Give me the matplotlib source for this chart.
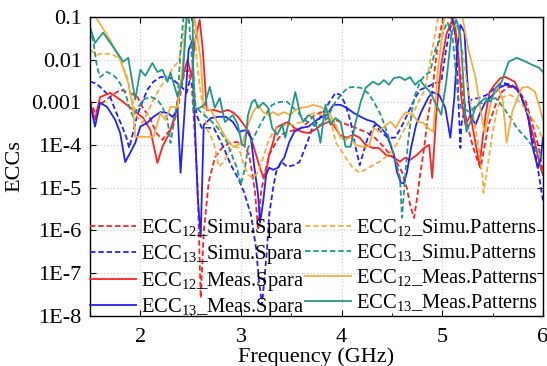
import numpy as np
import matplotlib
matplotlib.use("Agg")
import matplotlib.pyplot as plt

plt.rcParams['font.family'] = ['Liberation Serif', 'DejaVu Serif']
plt.rcParams['mathtext.fontset'] = 'custom'
plt.rcParams['mathtext.rm'] = 'Liberation Serif'

# Dane: czestotliwosc (GHz) i wykladnik log10(ECC)
f_r_sim = [1.50, 1.55, 1.60, 1.70, 1.80, 1.90, 1.97, 2.02, 2.09, 2.16, 2.22, 2.27, 2.32, 2.37, 2.41, 2.44,
           2.47, 2.51, 2.54, 2.57, 2.60, 2.63, 2.68, 2.74, 2.81, 2.89, 2.96, 3.03, 3.08, 3.11, 3.14, 3.17,
           3.20, 3.24, 3.28, 3.35, 3.40, 3.47, 3.53, 3.60, 3.67, 3.73, 3.80, 3.87, 3.93, 3.99, 4.06, 4.12,
           4.19, 4.26, 4.33, 4.40, 4.46, 4.53, 4.60, 4.65, 4.68, 4.72, 4.75, 4.78, 4.82, 4.85, 4.90, 4.95,
           5.00, 5.05, 5.10, 5.13, 5.19, 5.23, 5.28, 5.33, 5.38, 5.41, 5.46, 5.53, 5.59, 5.66, 5.74, 5.83,
           5.89, 5.96, 6.00]
e_r_sim = [-2.94, -3.25, -3.06, -2.87, -2.71, -2.78, -2.87, -3.11, -3.34, -3.72, -3.88, -3.72, -3.58, -3.18, -2.64, -2.29,
           -2.24, -2.55, -3.72, -5.00, -7.58, -6.05, -4.86, -4.30, -4.07, -3.95, -3.93, -4.00, -4.23, -4.63, -5.10, -6.00,
           -5.10, -4.63, -4.23, -3.93, -3.76, -3.69, -3.65, -3.60, -3.46, -3.30, -3.23, -3.46, -3.41, -3.46, -3.53, -3.58,
           -3.65, -3.72, -3.83, -4.00, -4.16, -4.33, -4.63, -5.03, -5.40, -5.71, -5.24, -4.70, -4.07, -3.46, -2.76, -1.73,
           -1.12, -0.90, -1.07, -1.42, -2.52, -3.30, -3.83, -4.23, -4.54, -4.16, -3.53, -3.06, -2.76, -2.64, -2.66, -2.99,
           -3.46, -4.07, -4.63]

f_b_sim = [1.50, 1.55, 1.60, 1.70, 1.75, 1.82, 1.86, 1.89, 1.93, 1.97, 2.02, 2.07, 2.13, 2.20, 2.28, 2.33,
           2.41, 2.46, 2.49, 2.52, 2.56, 2.61, 2.67, 2.73, 2.78, 2.83, 2.90, 2.97, 3.03, 3.10, 3.15, 3.18,
           3.21, 3.23, 3.26, 3.28, 3.32, 3.35, 3.40, 3.46, 3.53, 3.58, 3.61, 3.66, 3.71, 3.76, 3.82, 3.88,
           3.94, 3.99, 4.04, 4.09, 4.14, 4.18, 4.21, 4.26, 4.33, 4.39, 4.46, 4.53, 4.59, 4.66, 4.73, 4.78,
           4.85, 4.93, 4.99, 5.04, 5.08, 5.11, 5.14, 5.16, 5.18, 5.19, 5.23, 5.29, 5.36, 5.44, 5.53, 5.61,
           5.69, 5.76, 5.83, 5.89, 5.94, 5.98, 6.00]
e_b_sim = [-2.52, -2.55, -2.64, -2.87, -3.18, -3.57, -3.81, -4.07, -3.69, -3.30, -2.99, -2.71, -2.52, -2.41, -2.41, -2.48,
           -2.64, -2.78, -2.50, -2.60, -3.30, -3.60, -3.60, -3.60, -3.83, -4.07, -4.47, -4.77, -5.10, -5.64, -6.41, -7.21,
           -7.74, -7.21, -6.41, -5.64, -5.00, -4.63, -4.39, -4.51, -4.47, -4.40, -4.23, -3.93, -3.60, -3.46, -3.23, -2.99,
           -2.78, -2.83, -3.06, -3.46, -4.07, -4.47, -4.23, -3.83, -3.53, -3.69, -3.83, -3.83, -3.60, -3.25, -2.90, -2.71,
           -2.64, -2.55, -2.52, -1.73, -1.26, -1.02, -1.66, -2.90, -4.07, -3.53, -3.06, -2.94, -2.90, -2.83, -2.66, -2.55,
           -2.59, -2.76, -3.13, -3.76, -4.40, -5.00, -5.30]

f_r_meas = [1.50, 1.55, 1.60, 1.70, 1.80, 1.93, 2.03, 2.10, 2.17, 2.22, 2.29, 2.36, 2.41, 2.44, 2.47, 2.51,
            2.54, 2.59, 2.62, 2.66, 2.73, 2.80, 2.87, 2.93, 2.98, 3.03, 3.08, 3.13, 3.18, 3.22, 3.25, 3.28,
            3.32, 3.35, 3.40, 3.47, 3.53, 3.60, 3.67, 3.73, 3.80, 3.87, 3.92, 3.98, 4.05, 4.12, 4.18, 4.24,
            4.31, 4.37, 4.44, 4.51, 4.58, 4.63, 4.68, 4.75, 4.82, 4.87, 4.90, 4.94, 4.99, 5.04, 5.09, 5.13,
            5.16, 5.19, 5.23, 5.28, 5.37, 5.43, 5.47, 5.52, 5.58, 5.63, 5.72, 5.78, 5.85, 5.92, 5.97, 6.00]
e_r_meas = [-3.01, -3.41, -2.88, -2.78, -2.94, -3.18, -3.37, -3.65, -4.42, -4.04, -3.72, -3.18, -2.48, -2.24, -2.00, -2.41,
            -1.61, -1.07, -1.75, -3.18, -3.18, -3.23, -3.18, -3.25, -3.37, -3.53, -3.69, -4.07, -4.47, -4.75, -4.63, -4.23,
            -3.93, -3.60, -3.53, -3.46, -3.60, -3.69, -3.72, -3.65, -3.53, -3.46, -3.53, -3.76, -3.83, -3.76, -3.83, -4.00,
            -4.07, -4.07, -4.23, -4.28, -4.39, -4.30, -4.35, -4.23, -4.07, -4.00, -4.77, -3.30, -2.12, -1.42, -1.12, -1.26,
            -1.89, -2.90, -3.53, -3.30, -4.47, -3.30, -2.76, -2.59, -2.43, -2.41, -2.52, -2.83, -3.30, -3.93, -4.47, -4.70]

f_b_meas = [1.50, 1.55, 1.60, 1.67, 1.75, 1.80, 1.85, 1.90, 1.95, 2.00, 2.07, 2.13, 2.20, 2.27, 2.32, 2.37,
            2.40, 2.43, 2.48, 2.52, 2.53, 2.57, 2.60, 2.63, 2.70, 2.78, 2.85, 2.92, 2.98, 3.05, 3.10, 3.13,
            3.17, 3.19, 3.22, 3.25, 3.28, 3.32, 3.37, 3.40, 3.43, 3.48, 3.53, 3.60, 3.67, 3.73, 3.78, 3.85,
            3.92, 3.99, 4.05, 4.12, 4.19, 4.25, 4.32, 4.39, 4.45, 4.52, 4.55, 4.59, 4.62, 4.65, 4.69, 4.74,
            4.79, 4.86, 4.90, 4.97, 5.03, 5.08, 5.12, 5.15, 5.18, 5.22, 5.25, 5.28, 5.33, 5.38, 5.43, 5.50,
            5.57, 5.63, 5.72, 5.78, 5.85, 5.90, 5.95, 5.98, 6.00]
e_b_meas = [-3.01, -3.57, -3.01, -3.11, -3.41, -3.72, -4.40, -4.18, -3.95, -3.57, -3.48, -3.34, -3.23, -3.25, -3.34, -3.18,
            -4.65, -3.57, -1.77, -1.54, -2.78, -5.20, -6.15, -3.53, -3.37, -3.34, -3.34, -3.46, -3.69, -3.65, -3.83, -4.46,
            -5.16, -5.82, -5.34, -4.70, -4.53, -4.58, -4.53, -4.39, -4.30, -3.93, -3.69, -3.60, -3.57, -3.46, -3.37, -3.30,
            -3.06, -3.06, -3.13, -3.25, -3.34, -3.41, -3.46, -3.60, -3.76, -4.23, -4.63, -4.89, -4.89, -4.63, -4.07, -3.53,
            -3.23, -2.90, -2.76, -2.83, -3.13, -3.83, -2.90, -1.73, -1.19, -1.35, -2.52, -3.30, -3.53, -3.23, -2.99, -2.83,
            -2.66, -2.59, -2.64, -2.83, -3.30, -4.07, -4.54, -4.30, -3.83]

f_o_sim = [1.50, 1.57, 1.63, 1.73, 1.80, 1.87, 1.92, 1.97, 2.02, 2.07, 2.13, 2.20, 2.27, 2.33, 2.38, 2.42,
           2.46, 2.50, 2.53, 2.56, 2.60, 2.63, 2.67, 2.73, 2.78, 2.83, 2.88, 2.93, 2.98, 3.02, 3.07, 3.12,
           3.17, 3.22, 3.27, 3.32, 3.37, 3.45, 3.52, 3.57, 3.62, 3.67, 3.73, 3.79, 3.84, 3.89, 3.94, 4.04,
           4.11, 4.18, 4.27, 4.37, 4.47, 4.55, 4.62, 4.69, 4.75, 4.83, 4.90, 4.96, 5.03, 5.13, 5.20, 5.25,
           5.31, 5.36, 5.40, 5.41, 5.45, 5.50, 5.55, 5.61, 5.68, 5.75, 5.81, 5.88, 5.95, 6.00]
e_o_sim = [-1.77, -1.89, -1.85, -1.89, -2.00, -2.41, -2.94, -3.34, -3.48, -3.25, -2.94, -2.64, -2.41, -2.17, -2.05, -1.61,
           -1.00, -0.80, -1.00, -2.00, -2.80, -3.18, -3.65, -3.95, -4.51, -4.40, -4.16, -4.04, -4.07, -4.40, -4.70, -4.77,
           -4.63, -4.30, -3.93, -3.69, -3.58, -3.53, -3.53, -3.48, -3.46, -3.30, -3.25, -3.30, -3.23, -3.37, -3.93, -4.30,
           -4.53, -4.65, -4.53, -4.40, -4.23, -3.97, -3.65, -3.37, -3.06, -2.69, -1.77, -1.00, -0.75, -1.07, -1.77, -2.64,
           -3.34, -4.04, -4.75, -5.12, -4.51, -3.72, -3.11, -2.87, -2.83, -2.94, -3.11, -3.34, -3.58, -3.88]

f_t_sim = [1.50, 1.53, 1.57, 1.60, 1.67, 1.73, 1.78, 1.85, 1.90, 1.93, 1.98, 2.03, 2.10, 2.17, 2.22, 2.27,
           2.30, 2.33, 2.37, 2.40, 2.43, 2.46, 2.48, 2.52, 2.55, 2.61, 2.69, 2.77, 2.86, 2.92, 2.96, 3.00,
           3.04, 3.07, 3.14, 3.19, 3.26, 3.31, 3.39, 3.46, 3.52, 3.59, 3.66, 3.72, 3.79, 3.86, 3.92, 3.99,
           4.06, 4.12, 4.19, 4.26, 4.32, 4.39, 4.46, 4.53, 4.58, 4.60, 4.63, 4.66, 4.70, 4.73, 4.78, 4.83,
           4.88, 4.93, 5.00, 5.05, 5.10, 5.13, 5.16, 5.19, 5.28, 5.34, 5.43, 5.53, 5.61, 5.68, 5.74, 5.83,
           5.91, 5.99]
e_t_sim = [-1.25, -1.54, -2.17, -2.41, -2.29, -2.36, -2.48, -2.78, -3.18, -3.34, -3.11, -2.94, -2.87, -2.94, -3.11, -3.41,
           -3.95, -3.53, -2.94, -1.77, -1.00, -0.80, -1.00, -2.17, -3.11, -3.25, -3.41, -3.60, -3.93, -4.30, -4.53, -4.93,
           -4.53, -4.07, -3.76, -3.53, -3.23, -3.06, -2.99, -2.99, -3.13, -3.30, -3.46, -3.53, -3.53, -3.37, -3.06, -2.83,
           -2.66, -2.64, -2.66, -2.78, -2.99, -3.30, -3.76, -4.30, -4.77, -5.70, -4.77, -3.93, -3.18, -2.83, -2.52, -2.36,
           -2.29, -1.77, -1.42, -1.12, -1.42, -2.17, -2.94, -3.13, -3.23, -3.06, -2.99, -2.90, -3.13, -3.37, -3.60, -3.83,
           -4.07, -4.30]

f_o_meas = [1.50, 1.55, 1.70, 1.80, 1.88, 1.93, 1.95, 2.05, 2.13, 2.20, 2.25, 2.30, 2.37, 2.42, 2.45, 2.48,
            2.53, 2.57, 2.60, 2.63, 2.70, 2.78, 2.85, 2.92, 2.97, 3.02, 3.07, 3.12, 3.17, 3.22, 3.27, 3.32,
            3.37, 3.43, 3.49, 3.54, 3.59, 3.66, 3.72, 3.79, 3.84, 3.89, 3.94, 3.99, 4.04, 4.09, 4.14, 4.21,
            4.27, 4.32, 4.37, 4.44, 4.49, 4.54, 4.59, 4.64, 4.71, 4.76, 4.81, 4.86, 4.91, 4.96, 5.02, 5.06,
            5.16, 5.20, 5.26, 5.33, 5.38, 5.42, 5.49, 5.55, 5.60, 5.64, 5.70, 5.79, 5.85, 5.92, 5.97, 6.00]
e_o_meas = [-0.95, -0.98, -1.54, -2.00, -2.55, -3.18, -3.81, -3.81, -3.81, -3.25, -3.41, -3.11, -3.11, -2.17, -1.23, -0.90,
            -0.90, -1.50, -2.00, -3.13, -3.18, -3.53, -3.83, -4.04, -4.00, -3.93, -3.53, -3.23, -3.06, -3.23, -3.30, -3.23,
            -3.30, -3.23, -3.30, -3.18, -3.13, -3.11, -3.06, -3.11, -3.18, -3.30, -3.53, -3.83, -3.88, -3.81, -4.00, -4.04,
            -4.04, -3.60, -3.69, -3.53, -3.46, -3.60, -3.37, -3.23, -3.30, -3.46, -3.48, -3.60, -3.69, -2.17, -1.00, -0.80,
            -0.80, -1.00, -1.77, -2.41, -3.18, -3.72, -2.94, -2.64, -2.94, -3.95, -3.18, -2.66, -2.64, -2.75, -3.13, -3.41]

f_t_meas = [1.50, 1.55, 1.63, 1.75, 1.83, 1.88, 1.95, 2.00, 2.05, 2.12, 2.17, 2.22, 2.27, 2.30, 2.37, 2.42,
            2.46, 2.49, 2.52, 2.53, 2.59, 2.64, 2.69, 2.74, 2.79, 2.84, 2.92, 2.97, 3.01, 3.04, 3.07, 3.11,
            3.14, 3.17, 3.22, 3.27, 3.31, 3.36, 3.41, 3.44, 3.49, 3.54, 3.59, 3.62, 3.67, 3.72, 3.77, 3.79,
            3.84, 3.89, 3.94, 3.99, 4.04, 4.09, 4.14, 4.19, 4.24, 4.31, 4.37, 4.42, 4.47, 4.52, 4.58, 4.63,
            4.68, 4.73, 4.78, 4.83, 4.88, 4.93, 4.99, 5.04, 5.09, 5.14, 5.18, 5.21, 5.24, 5.28, 5.33, 5.38,
            5.43, 5.48, 5.53, 5.59, 5.66, 5.74, 5.83, 5.89, 5.96, 6.00]
e_t_meas = [-1.23, -1.61, -1.37, -1.77, -2.05, -1.96, -2.94, -2.24, -2.38, -2.08, -2.29, -2.24, -2.52, -2.31, -2.87, -2.48,
            -1.00, -0.75, -1.00, -3.18, -3.13, -3.06, -2.64, -3.13, -2.90, -3.46, -3.30, -3.53, -4.00, -4.00, -3.30, -2.99,
            -2.94, -3.13, -3.01, -3.13, -3.60, -3.76, -3.53, -3.83, -3.30, -2.76, -3.30, -3.46, -3.30, -3.37, -3.69, -3.95,
            -3.06, -3.53, -3.37, -3.46, -4.04, -4.04, -3.46, -2.99, -2.66, -2.52, -2.59, -2.48, -2.59, -2.43, -2.41, -2.48,
            -2.41, -2.59, -2.48, -2.64, -2.76, -3.01, -3.29, -2.52, -1.42, -1.07, -1.42, -2.52, -3.69, -3.46, -3.13, -2.99,
            -2.90, -2.99, -2.66, -2.52, -2.05, -1.96, -2.05, -2.12, -2.19, -2.29]

labels = [r'ECC$_\mathrm{12}$_Simu.Spara', r'ECC$_\mathrm{13}$_Simu.Spara',
          r'ECC$_\mathrm{12}$_Meas.Spara', r'ECC$_\mathrm{13}$_Meas.Spara',
          r'ECC$_\mathrm{12}$_Simu.Patterns', r'ECC$_\mathrm{13}$_Simu.Patterns',
          r'ECC$_\mathrm{12}$_Meas.Patterns', r'ECC$_\mathrm{13}$_Meas.Patterns']

series = [(f_r_sim, e_r_sim), (f_b_sim, e_b_sim), (f_r_meas, e_r_meas), (f_b_meas, e_b_meas),
          (f_o_sim, e_o_sim), (f_t_sim, e_t_sim), (f_o_meas, e_o_meas), (f_t_meas, e_t_meas)]
colors = ['#ff2222', '#2222ff', '#ff2222', '#2222ff', '#f0b040', '#23968c', '#f0b040', '#23968c']
dashed = (0, (3, 1.6))
styles = [dashed, dashed, '-', '-', dashed, dashed, '-', '-']

fig = plt.figure(figsize=(5.47, 3.66), dpi=100)
ax = fig.add_axes([0.1645, 0.137, 0.828, 0.817])

for (f, e), c, ls, lab in zip(series, colors, styles, labels):
    ax.plot(f, 10.0 ** np.array(e), color=c, linestyle=ls, lw=1.3, label=lab)

ax.set_yscale('log')
ax.set_xlim(1.5, 6)
ax.set_ylim(1e-8, 0.1)
ax.set_xticks([2, 3, 4, 5, 6])
ax.set_xticks(np.arange(1.5, 6.01, 0.5), minor=True)
yt = [1e-8, 1e-7, 1e-6, 1e-5, 1e-4, 1e-3, 1e-2, 1e-1]
ax.set_yticks(yt)
ax.set_yticklabels(['1E-8', '1E-7', '1E-6', '1E-5', '1E-4', '0.001', '0.01', '0.1'])
ax.tick_params(which='both', direction='in', top=True, right=True, labelsize=16)
ax.tick_params(which='major', length=4, width=0.8)
ax.tick_params(which='minor', length=2, width=0.6)
ax.tick_params(axis='x', which='major', pad=9)
ax.tick_params(axis='y', which='major', pad=6)
ax.grid(True, which='major', linestyle=(0, (1, 2)), color='#c8c8c8', lw=0.8)
for s in ax.spines.values():
    s.set_linewidth(1.0)

ax.set_xlabel('Frequency (GHz)', fontsize=16, labelpad=0)
ax.set_ylabel('ECCs', fontsize=16, labelpad=5)

ax.legend(ncol=2, loc='lower left', bbox_to_anchor=(0, -0.012), frameon=False, fontsize=14.8,
          handlelength=2.25, handletextpad=0.25, columnspacing=0.0, borderpad=0.0,
          borderaxespad=0.0, labelspacing=0.17)

fig.savefig('out.png', dpi=100)
